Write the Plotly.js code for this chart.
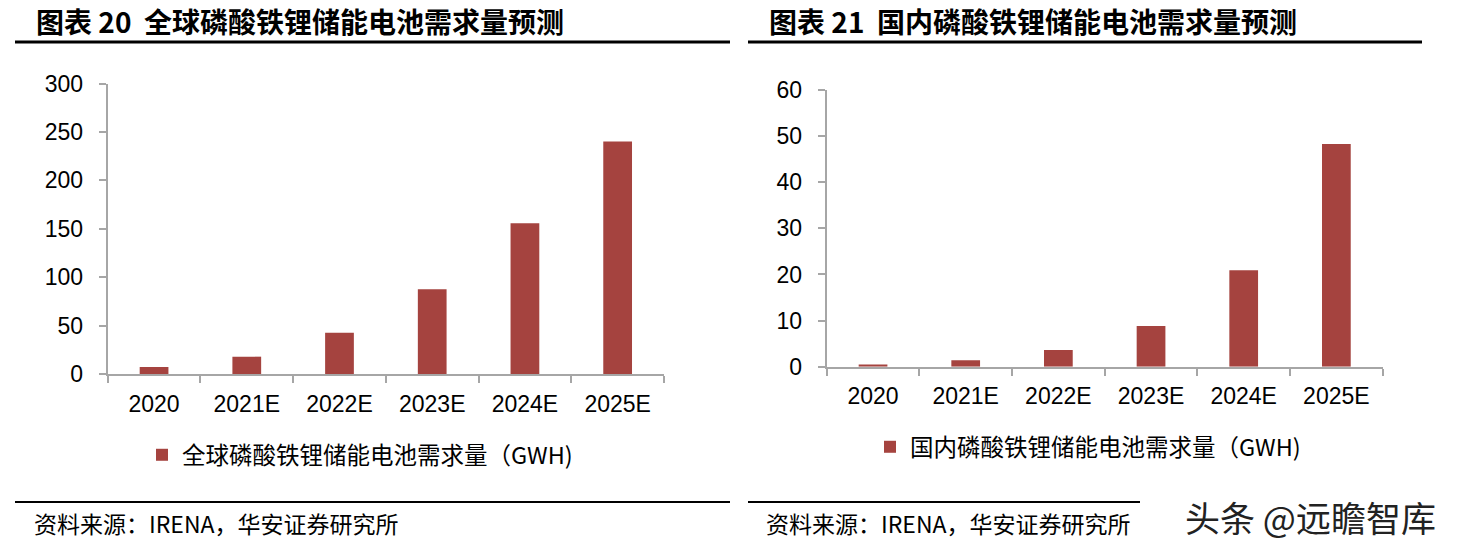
<!DOCTYPE html>
<html>
<head>
<meta charset="utf-8">
<script src="https://cdn.plot.ly/plotly-3.0.1.min.js"></script>
<style>
html,body{margin:0;padding:0;background:#fff;}
#chart{width:1460px;height:550px;}
</style>
</head>
<body>
<div id="chart"></div>
<script>
// ---- data ----
const categories = ['2020', '2021E', '2022E', '2023E', '2024E', '2025E'];
const globalDemand = [7.2, 17.9, 42.6, 87.6, 155.7, 240.2];
const domesticDemand = [0.5, 1.4, 3.6, 8.8, 20.9, 48.3];
const globalName = '全球磷酸铁锂储能电池需求量（GWH)';
const domesticName = '国内磷酸铁锂储能电池需求量（GWH)';
const title1 = '图表 20  全球磷酸铁锂储能电池需求量预测';
const title2 = '图表 21  国内磷酸铁锂储能电池需求量预测';
const sourceText = '资料来源：IRENA，华安证券研究所';
const watermark = '头条 @远瞻智库';

// ---- layout helpers (pixel -> paper) ----
const W = 1460, H = 550;
const px = v => v / W;
const py = v => 1 - v / H;

const barColor = '#A5433F';
const axisColor = '#A6A6A6';
const numFont = 'Liberation Sans, Arial, sans-serif';
const cjkFont = 'Noto Sans CJK SC, sans-serif';

const traces = [
  {type: 'bar', x: categories, y: globalDemand, name: globalName,
   marker: {color: barColor}, xaxis: 'x', yaxis: 'y', legend: 'legend'},
  {type: 'bar', x: categories, y: domesticDemand, name: domesticName,
   marker: {color: barColor}, xaxis: 'x2', yaxis: 'y2', legend: 'legend2'}
];

const xCommon = {
  type: 'category', range: [-0.5, 5.5], fixedrange: true,
  showline: true, linecolor: axisColor, linewidth: 2,
  ticks: 'outside', tickson: 'boundaries', ticklen: 7, tickwidth: 2, tickcolor: axisColor,
  showgrid: false, zeroline: false,
  tickfont: {family: numFont, size: 23, color: '#000'},
  ticklabelstandoff: 8
};
const yCommon = {
  showline: true, linecolor: axisColor, linewidth: 2,
  ticks: 'outside', ticklen: 7, tickwidth: 2, tickcolor: axisColor,
  showgrid: false, zeroline: false, fixedrange: true,
  tickfont: {family: numFont, size: 23, color: '#000'},
  ticklabelstandoff: 11
};

const layout = {
  width: W, height: H,
  margin: {l: 0, r: 0, t: 0, b: 0},
  paper_bgcolor: '#fff', plot_bgcolor: '#fff',
  bargap: 0.69,
  showlegend: true,
  xaxis: Object.assign({}, xCommon, {domain: [px(107.7), px(664)], anchor: 'y'}),
  yaxis: Object.assign({}, yCommon, {domain: [py(374), py(83.5)], range: [0, 300], dtick: 50, anchor: 'x'}),
  xaxis2: Object.assign({}, xCommon, {domain: [px(826.7), px(1382.7)], anchor: 'y2'}),
  yaxis2: Object.assign({}, yCommon, {domain: [py(366.7), py(90)], range: [0, 60], dtick: 10, anchor: 'x2'}),
  legend: {x: px(142), y: py(455), xanchor: 'left', yanchor: 'middle',
           font: {family: cjkFont, size: 23.5, color: '#000'}, bgcolor: 'rgba(0,0,0,0)'},
  legend2: {x: px(870), y: py(447), xanchor: 'left', yanchor: 'middle',
            font: {family: cjkFont, size: 23.5, color: '#000'}, bgcolor: 'rgba(0,0,0,0)'},
  shapes: [
    {type: 'line', xref: 'paper', yref: 'paper', x0: px(15), x1: px(730), y0: py(42), y1: py(42), line: {color: '#000', width: 3}},
    {type: 'line', xref: 'paper', yref: 'paper', x0: px(748), x1: px(1422), y0: py(42), y1: py(42), line: {color: '#000', width: 3}},
    {type: 'line', xref: 'paper', yref: 'paper', x0: px(15), x1: px(730), y0: py(502), y1: py(502), line: {color: '#000', width: 2}},
    {type: 'line', xref: 'paper', yref: 'paper', x0: px(748), x1: px(1140), y0: py(502), y1: py(502), line: {color: '#000', width: 2}}
  ],
  annotations: [
    {text: '<b>' + title1 + '</b>', xref: 'paper', yref: 'paper', x: px(34), y: py(21), xanchor: 'left', yanchor: 'middle',
     showarrow: false, font: {family: cjkFont, size: 28, color: '#000'}},
    {text: '<b>' + title2 + '</b>', xref: 'paper', yref: 'paper', x: px(767), y: py(21), xanchor: 'left', yanchor: 'middle',
     showarrow: false, font: {family: cjkFont, size: 28, color: '#000'}},
    {text: sourceText, xref: 'paper', yref: 'paper', x: px(32), y: py(523), xanchor: 'left', yanchor: 'middle',
     showarrow: false, font: {family: cjkFont, size: 23, color: '#000'}},
    {text: sourceText, xref: 'paper', yref: 'paper', x: px(764), y: py(523), xanchor: 'left', yanchor: 'middle',
     showarrow: false, font: {family: cjkFont, size: 23, color: '#000'}},
    {text: watermark, xref: 'paper', yref: 'paper', x: px(1310), y: py(516), xanchor: 'center', yanchor: 'middle',
     showarrow: false, bgcolor: '#fff', font: {family: cjkFont, size: 35, color: '#222'}}
  ]
};

Plotly.newPlot('chart', traces, layout, {displayModeBar: false, staticPlot: true});
</script>
</body>
</html>
